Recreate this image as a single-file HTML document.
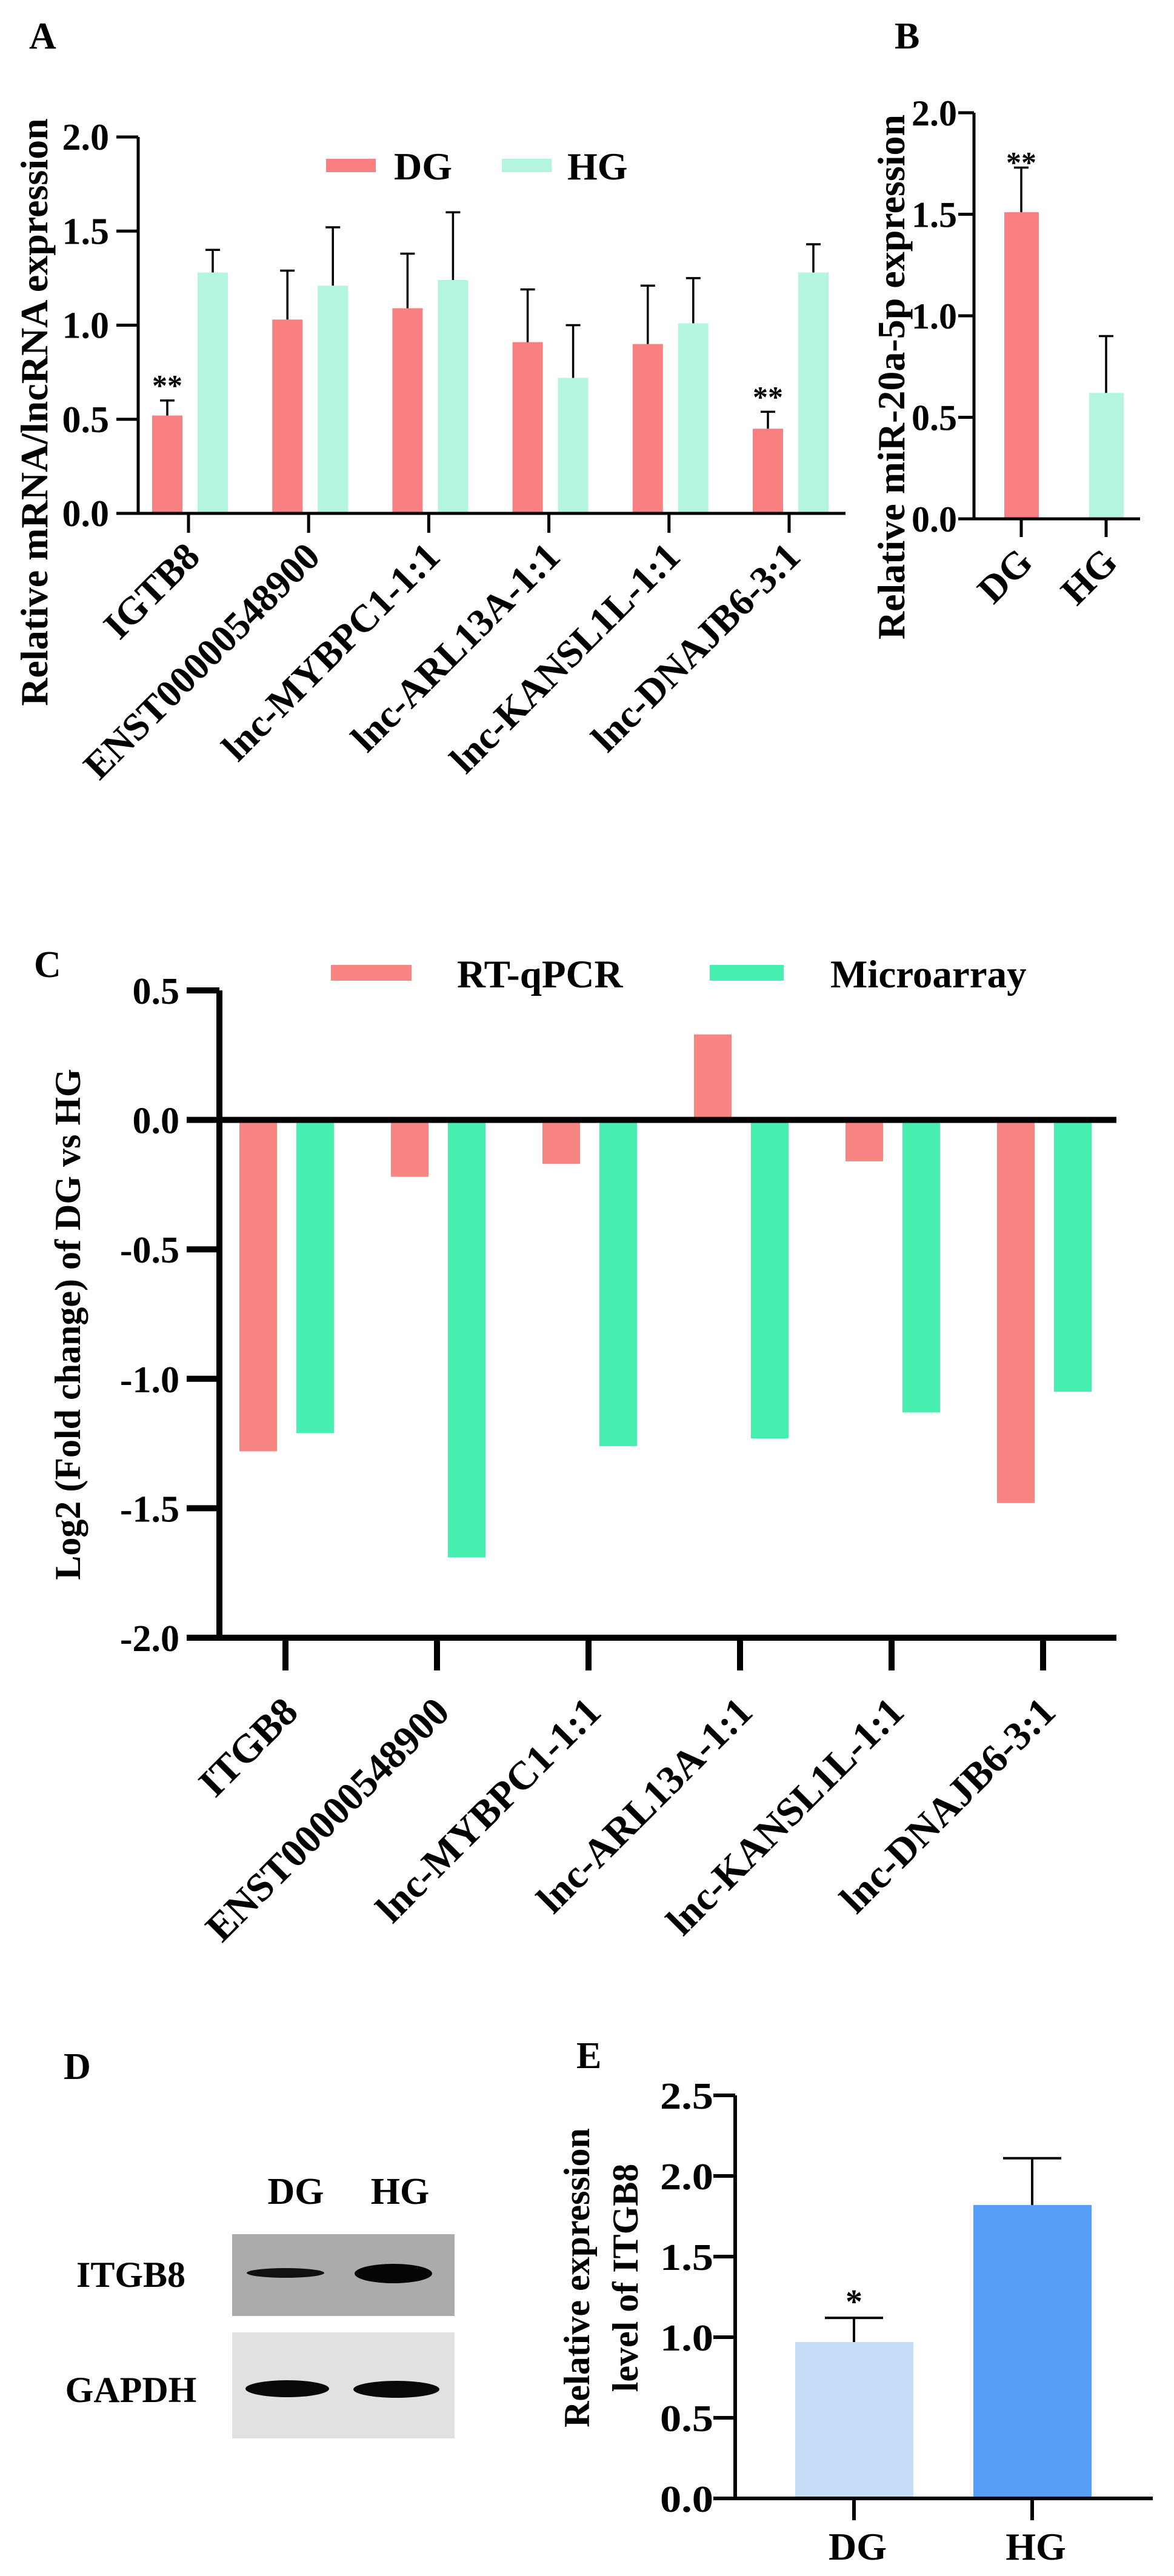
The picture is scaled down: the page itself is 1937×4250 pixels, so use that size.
<!DOCTYPE html>
<html><head><meta charset="utf-8">
<style>
html,body{margin:0;padding:0;background:#fff;}
svg{display:block;}
text{font-family:"Liberation Serif",serif;font-weight:bold;fill:#000;}
</style></head>
<body>
<svg id="fig" width="1937" height="4250" viewBox="0 0 1937 4250" xmlns="http://www.w3.org/2000/svg">
<rect x="0" y="0" width="1937" height="4250" fill="#fff"/>
<text x="48" y="80" font-size="62">A</text>
<text x="1476" y="80" font-size="62">B</text>
<text x="56" y="1612" font-size="62">C</text>
<text x="105" y="3430" font-size="62">D</text>
<text x="951" y="3412" font-size="62">E</text>
<g id="gA"></g>
<g id="gB"></g>
<g id="gC"></g>
<g id="gD">
  <text x="488" y="3636" font-size="62" text-anchor="middle">DG</text>
  <text x="660" y="3636" font-size="62" text-anchor="middle">HG</text>
  <text x="216" y="3773" font-size="60" text-anchor="middle">ITGB8</text>
  <text x="216" y="3963" font-size="60" text-anchor="middle">GAPDH</text>
  <rect x="383" y="3686" width="367" height="135" fill="#ababab"/>
  <rect x="383" y="3848" width="367" height="175" fill="#e1e1e1"/>
  <ellipse cx="471" cy="3750" rx="64" ry="8" fill="#111"/>
  <ellipse cx="649" cy="3751" rx="64" ry="16" fill="#050505"/>
  <ellipse cx="474" cy="3941" rx="69" ry="14" fill="#080808"/>
  <ellipse cx="654" cy="3942" rx="71" ry="14" fill="#080808"/>
</g>
<g id="gE"></g>
</svg>
<script>
// ---- Panel A data ----
const catsA = ["IGTB8","ENST00000548900","lnc-MYBPC1-1:1","lnc-ARL13A-1:1","lnc-KANSL1L-1:1","lnc-DNAJB6-3:1"];
const dgA = [0.52,1.03,1.09,0.91,0.90,0.45];
const dgErrA = [0.08,0.26,0.29,0.28,0.31,0.09];
const hgA = [1.28,1.21,1.24,0.72,1.01,1.28];
const hgErrA = [0.12,0.31,0.36,0.28,0.24,0.15];
const sigA = ["**","","","","","**"];
const ticksA = [0,0.5,1.0,1.5,2.0];
// ---- Panel B data ----
const catsB = ["DG","HG"];
const valsB = [1.51,0.62];
const errB = [0.22,0.28];
const sigB = ["**",""];
const ticksB = [0,0.5,1.0,1.5,2.0];
// ---- Panel C data ----
const catsC = ["ITGB8","ENST00000548900","lnc-MYBPC1-1:1","lnc-ARL13A-1:1","lnc-KANSL1L-1:1","lnc-DNAJB6-3:1"];
const rtC = [-1.28,-0.22,-0.17,0.33,-0.16,-1.48];
const microC = [-1.21,-1.69,-1.26,-1.23,-1.13,-1.05];
const ticksC = [0.5,0.0,-0.5,-1.0,-1.5,-2.0];
// ---- Panel E data ----
const catsE = ["DG","HG"];
const valsE = [0.97,1.82];
const errE = [0.15,0.29];
const sigE = ["*",""];
const ticksE = [0,0.5,1.0,1.5,2.0,2.5];

const NS="http://www.w3.org/2000/svg";
function mk(parent,tag,attrs,txt){const e=document.createElementNS(NS,tag);for(const k in attrs)e.setAttribute(k,attrs[k]);if(txt!==undefined)e.textContent=txt;parent.appendChild(e);return e;}
function fmt(v){return v.toFixed(1);}

// ===== Panel A =====
(function(){
  const g=document.getElementById('gA');
  const x0=228,x1=1395,y0=847,yTop=226,vmax=2.0;
  const y=v=>y0-(v/vmax)*(y0-yTop);
  const tx=i=>311+i*198.2;
  const bw=50,lw=5;
  ticksA.forEach(t=>{
    const l=mk(g,'line',{x1:x0-36,x2:x0,y1:y(t),y2:y(t),stroke:'#000','stroke-width':lw});
    
    
    const tt=mk(g,'text',{x:x0-48,y:y(t)+21,'font-size':62,'text-anchor':'end'},fmt(t));
    
    
  });
  catsA.forEach((c,i)=>{
    const cx=tx(i);
    const b1=mk(g,'rect',{x:cx-60,y:y(dgA[i]),width:bw,height:y0-y(dgA[i]),fill:'#f88080'});
    
    
    const b2=mk(g,'rect',{x:cx+15,y:y(hgA[i]),width:bw,height:y0-y(hgA[i]),fill:'#b4f5e0'});
    
    
    [[cx-35,dgA[i],dgErrA[i]],[cx+40,hgA[i],hgErrA[i]]].forEach(([ex,v,e])=>{
      const p=mk(g,'path',{d:`M${ex},${y(v)}V${y(v+e)}M${ex-12},${y(v+e)}H${ex+12}`,stroke:'#000','stroke-width':3.5,fill:'none'});
      
      
    });
    if(sigA[i]){const s=mk(g,'text',{x:cx-35,y:y(dgA[i]+dgErrA[i])-8,'font-size':50,'text-anchor':'middle','font-weight':'normal'},sigA[i]);
      
      }
    const tk=mk(g,'line',{x1:cx,x2:cx,y1:y0,y2:y0+32,stroke:'#000','stroke-width':lw});
    
    
    const px=cx+22,py=y0+75;
    const lb=mk(g,'text',{x:px,y:py,'font-size':64,'text-anchor':'end',transform:`rotate(-45 ${px} ${py})`},c);
    
    
  });
  const ax=mk(g,'path',{d:`M${x0},${yTop}V${y0}H${x1}`,stroke:'#000','stroke-width':lw,fill:'none'});
  
  
  const yt=mk(g,'text',{x:78,y:680,'font-size':64,'text-anchor':'middle',transform:'rotate(-90 78 680)'},'Relative mRNA/lncRNA expression');
  
  
  const s1=mk(g,'rect',{x:538,y:262,width:82,height:22,fill:'#f88080'});
  
  
  const t1=mk(g,'text',{x:650,y:296,'font-size':64},'DG');
  
  
  const s2=mk(g,'rect',{x:828,y:262,width:82,height:22,fill:'#b4f5e0'});
  
  
  const t2=mk(g,'text',{x:936,y:296,'font-size':64},'HG');
  
  
})();

// ===== Panel B =====
(function(){
  const g=document.getElementById('gB');
  const x0=1607,x1=1881,y0=856,yTop=186,vmax=2.0;
  const y=v=>y0-(v/vmax)*(y0-yTop);
  const tx=i=>1685+i*140;
  const lw=5;
  ticksB.forEach(t=>{
    const l=mk(g,'line',{x1:x0-26,x2:x0,y1:y(t),y2:y(t),stroke:'#000','stroke-width':lw});
    
    
    const tt=mk(g,'text',{x:x0-28,y:y(t)+21,'font-size':60,'text-anchor':'end'},fmt(t));
    
    
  });
  const cols=['#f88080','#b4f5e0'];
  catsB.forEach((c,i)=>{
    const cx=tx(i);
    const b=mk(g,'rect',{x:cx-28,y:y(valsB[i]),width:57,height:y0-y(valsB[i]),fill:cols[i]});
    
    
    const ex=cx,v=valsB[i],e=errB[i];
    const p=mk(g,'path',{d:`M${ex},${y(v)}V${y(v+e)}M${ex-12},${y(v+e)}H${ex+12}`,stroke:'#000','stroke-width':3.5,fill:'none'});
    
    
    if(sigB[i]){const s=mk(g,'text',{x:cx,y:y(v+e)+8,'font-size':50,'text-anchor':'middle','font-weight':'normal'},sigB[i]);
      
      }
    const tk=mk(g,'line',{x1:cx,x2:cx,y1:y0,y2:y0+30,stroke:'#000','stroke-width':lw});
    
    
    const px=cx+22,py=y0+75;
    const lb=mk(g,'text',{x:px,y:py,'font-size':64,'text-anchor':'end',transform:`rotate(-45 ${px} ${py})`},c);
    
    
  });
  const ax=mk(g,'path',{d:`M${x0},${yTop}V${y0}H${x1}`,stroke:'#000','stroke-width':lw,fill:'none'});
  
  
  const yt=mk(g,'text',{x:1492,y:622,'font-size':64,'text-anchor':'middle',transform:'rotate(-90 1492 622)'},'Relative miR-20a-5p expression');
  
  
})();

// ===== Panel C =====
(function(){
  const g=document.getElementById('gC');
  const x0=362,x1=1842,vTop=0.5,vBot=-2.0,yT=1634,yB=2702;
  const y=v=>yT+(vTop-v)/(vTop-vBot)*(yB-yT);
  const tx=i=>471+i*250;
  const lw=10,bw=62;
  ticksC.forEach(t=>{
    const l=mk(g,'line',{x1:x0-54,x2:x0,y1:y(t),y2:y(t),stroke:'#000','stroke-width':lw});
    
    
    const tt=mk(g,'text',{x:x0-66,y:y(t)+22,'font-size':62,'text-anchor':'end'},fmt(t));
    
    
  });
  catsC.forEach((c,i)=>{
    const cx=tx(i);
    const r=rtC[i],m=microC[i];
    const b1=mk(g,'rect',{x:cx-76,y:Math.min(y(0),y(r)),width:bw,height:Math.abs(y(r)-y(0)),fill:'#f98583'});
    
    
    const b2=mk(g,'rect',{x:cx+18,y:Math.min(y(0),y(m)),width:bw,height:Math.abs(y(m)-y(0)),fill:'#46eeaf'});
    
    
    const tk=mk(g,'line',{x1:cx,x2:cx,y1:yB,y2:yB+54,stroke:'#000','stroke-width':lw});
    
    
    const px=cx+24,py=yB+126;
    const lb=mk(g,'text',{x:px,y:py,'font-size':66,'text-anchor':'end',transform:`rotate(-45 ${px} ${py})`},c);
    
    
  });
  const zl=mk(g,'line',{x1:x0,x2:x1,y1:y(0),y2:y(0),stroke:'#000','stroke-width':lw});
  
  
  const ax=mk(g,'path',{d:`M${x0},${yT}V${yB}H${x1}`,stroke:'#000','stroke-width':lw,fill:'none'});
  
  
  const yt=mk(g,'text',{x:132,y:2185,'font-size':60,'text-anchor':'middle',transform:'rotate(-90 132 2185)'},'Log2 (Fold change) of DG vs HG');
  
  
  const s1=mk(g,'rect',{x:546,y:1592,width:133,height:26,fill:'#f98583'});
  
  
  const t1=mk(g,'text',{x:754,y:1629,'font-size':65},'RT-qPCR');
  
  
  const s2=mk(g,'rect',{x:1171,y:1592,width:122,height:26,fill:'#46eeaf'});
  
  
  const t2=mk(g,'text',{x:1370,y:1629,'font-size':65},'Microarray');
  
  
})();

// ===== Panel E =====
(function(){
  const g=document.getElementById('gE');
  const x0=1213,x1=1902,y0=4122,yTop=3457,vmax=2.5;
  const y=v=>y0-(v/vmax)*(y0-yTop);
  const tx=i=>1409+i*294;
  const lw=6;
  ticksE.forEach(t=>{
    const l=mk(g,'line',{x1:x0-36,x2:x0,y1:y(t),y2:y(t),stroke:'#000','stroke-width':lw});
    
    
    const tt=mk(g,'text',{x:x0-36,y:y(t)+22,'font-size':62,'text-anchor':'end',textLength:88,lengthAdjust:'spacingAndGlyphs'},fmt(t));
    
    
  });
  const cols=['#c6ddf7','#579ef9'];
  catsE.forEach((c,i)=>{
    const cx=tx(i);
    const b=mk(g,'rect',{x:cx-97,y:y(valsE[i]),width:195,height:y0-y(valsE[i]),fill:cols[i]});
    
    
    const v=valsE[i],e=errE[i];
    const p=mk(g,'path',{d:`M${cx},${y(v)}V${y(v+e)}M${cx-48},${y(v+e)}H${cx+48}`,stroke:'#000','stroke-width':4,fill:'none'});
    
    
    if(sigE[i]){const s=mk(g,'text',{x:cx,y:y(v+e)-8,'font-size':56,'text-anchor':'middle','font-weight':'normal'},sigE[i]);
      
      }
    const tk=mk(g,'line',{x1:cx,x2:cx,y1:y0,y2:y0+36,stroke:'#000','stroke-width':lw});
    
    
    const lb=mk(g,'text',{x:cx+6,y:4223,'font-size':64,'text-anchor':'middle'},c);
    
    
  });
  const ax=mk(g,'path',{d:`M${x0},${yTop}V${y0}H${x1}`,stroke:'#000','stroke-width':lw,fill:'none'});
  
  
  const yt1=mk(g,'text',{x:972,y:3758,'font-size':60,'text-anchor':'middle',transform:'rotate(-90 972 3758)'},'Relative expression');
  
  
  const yt2=mk(g,'text',{x:1052,y:3758,'font-size':60,'text-anchor':'middle',transform:'rotate(-90 1052 3758)'},'level of ITGB8');
  
  
})();
</script>
</body></html>
